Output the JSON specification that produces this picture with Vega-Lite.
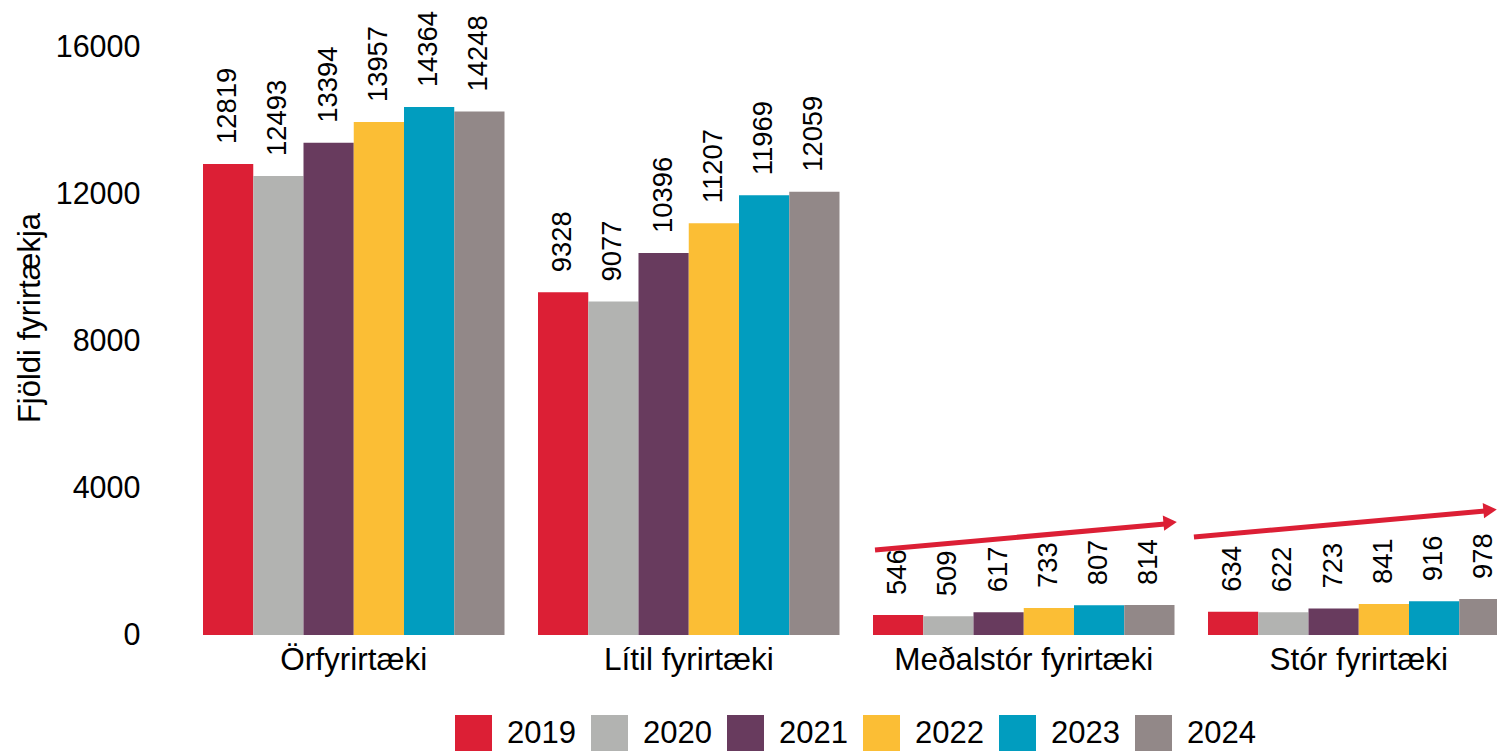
{
  "$schema": "https://vega.github.io/schema/vega-lite/v6.json",
  "width": 1294,
  "height": 588,
  "autosize": "none",
  "padding": {"left": 203, "top": 47, "right": 0, "bottom": 116},
  "config": {
    "view": {"stroke": null},
    "font": "Liberation Sans",
    "axis": {"labelColor": "#000000", "titleColor": "#000000", "grid": false, "domain": false, "ticks": false}
  },
  "datasets": {
    "bars": [
      {"cat": "Örfyrirtæki", "year": "2019", "value": 12819},
      {"cat": "Örfyrirtæki", "year": "2020", "value": 12493},
      {"cat": "Örfyrirtæki", "year": "2021", "value": 13394},
      {"cat": "Örfyrirtæki", "year": "2022", "value": 13957},
      {"cat": "Örfyrirtæki", "year": "2023", "value": 14364},
      {"cat": "Örfyrirtæki", "year": "2024", "value": 14248},
      {"cat": "Lítil fyrirtæki", "year": "2019", "value": 9328},
      {"cat": "Lítil fyrirtæki", "year": "2020", "value": 9077},
      {"cat": "Lítil fyrirtæki", "year": "2021", "value": 10396},
      {"cat": "Lítil fyrirtæki", "year": "2022", "value": 11207},
      {"cat": "Lítil fyrirtæki", "year": "2023", "value": 11969},
      {"cat": "Lítil fyrirtæki", "year": "2024", "value": 12059},
      {"cat": "Meðalstór fyrirtæki", "year": "2019", "value": 546},
      {"cat": "Meðalstór fyrirtæki", "year": "2020", "value": 509},
      {"cat": "Meðalstór fyrirtæki", "year": "2021", "value": 617},
      {"cat": "Meðalstór fyrirtæki", "year": "2022", "value": 733},
      {"cat": "Meðalstór fyrirtæki", "year": "2023", "value": 807},
      {"cat": "Meðalstór fyrirtæki", "year": "2024", "value": 814},
      {"cat": "Stór fyrirtæki", "year": "2019", "value": 634},
      {"cat": "Stór fyrirtæki", "year": "2020", "value": 622},
      {"cat": "Stór fyrirtæki", "year": "2021", "value": 723},
      {"cat": "Stór fyrirtæki", "year": "2022", "value": 841},
      {"cat": "Stór fyrirtæki", "year": "2023", "value": 916},
      {"cat": "Stór fyrirtæki", "year": "2024", "value": 978}
    ],
    "arrows": [
      {"group": "Meðalstór fyrirtæki", "x1": 2.006, "x2": 2.872, "y1": 2313, "y2": 3020, "hx": 2.887, "hy": 3061},
      {"group": "Stór fyrirtæki", "x1": 2.958, "x2": 3.827, "y1": 2667, "y2": 3374, "hx": 3.842, "hy": 3400}
    ]
  },
  "layer": [
    {
      "data": {"name": "bars"},
      "encoding": {
        "x": {
          "field": "cat", "type": "nominal",
          "sort": ["Örfyrirtæki", "Lítil fyrirtæki", "Meðalstór fyrirtæki", "Stór fyrirtæki"],
          "scale": {"range": [0, 1306.5], "paddingInner": 0.1, "paddingOuter": 0},
          "axis": {"title": null, "labelAngle": 0, "labelFontSize": 31.5, "labelPadding": 9, "labelLimit": 0}
        },
        "xOffset": {"field": "year", "type": "nominal", "scale": {"paddingInner": 0}},
        "y": {
          "field": "value", "type": "quantitative",
          "scale": {"domain": [0, 16000], "nice": false},
          "axis": {
            "title": "Fjöldi fyrirtækja", "values": [0, 4000, 8000, 12000, 16000], "format": "d",
            "labelFontSize": 30.5, "labelPadding": 63,
            "titleFontSize": 31, "titleFontWeight": "normal",
            "titleAngle": 270, "titleAlign": "center", "titleBaseline": "alphabetic",
            "titleX": -164, "titleY": 270.5
          }
        }
      },
      "layer": [
        {
          "mark": {"type": "bar"},
          "encoding": {
            "color": {
              "field": "year", "type": "nominal",
              "scale": {"domain": ["2019", "2020", "2021", "2022", "2023", "2024"], "range": ["#DC1F35", "#B2B3B1", "#683B5E", "#FBBE35", "#019DBF", "#928888"]},
              "legend": {
                "title": null, "orient": "none", "legendX": 252, "legendY": 668, "padding": 0,
                "direction": "horizontal", "symbolType": "square", "symbolSize": 1369,
                "symbolStrokeWidth": 0, "symbolOpacity": 1, "labelFontSize": 31, "labelColor": "#000000",
                "columnPadding": 15, "labelOffset": 15
              }
            }
          }
        },
        {
          "mark": {"type": "text", "angle": 270, "align": "left", "baseline": "middle", "dx": 20, "fontSize": 27.4, "color": "#000000"},
          "encoding": {"text": {"field": "value", "type": "quantitative", "format": "d"}}
        }
      ]
    },
    {
      "data": {"name": "arrows"},
      "encoding": {
        "y": {"field": "y1", "type": "quantitative"}
      },
      "layer": [
        {
          "mark": {"type": "rule", "color": "#DC1F35", "strokeWidth": 5},
          "encoding": {
            "x": {"field": "x1", "type": "quantitative", "scale": {"domain": [0, 3.8627], "nice": false, "zero": false}, "axis": null},
            "x2": {"field": "x2"},
            "y2": {"field": "y2"}
          }
        },
        {
          "mark": {"type": "point", "shape": "triangle-right", "filled": true, "color": "#DC1F35", "opacity": 1, "size": 240, "angle": 355},
          "encoding": {
            "x": {"field": "hx", "type": "quantitative", "scale": {"domain": [0, 3.8627], "nice": false, "zero": false}, "axis": null},
            "y": {"field": "hy", "type": "quantitative"}
          }
        }
      ]
    }
  ],
  "resolve": {"scale": {"x": "independent"}}
}
